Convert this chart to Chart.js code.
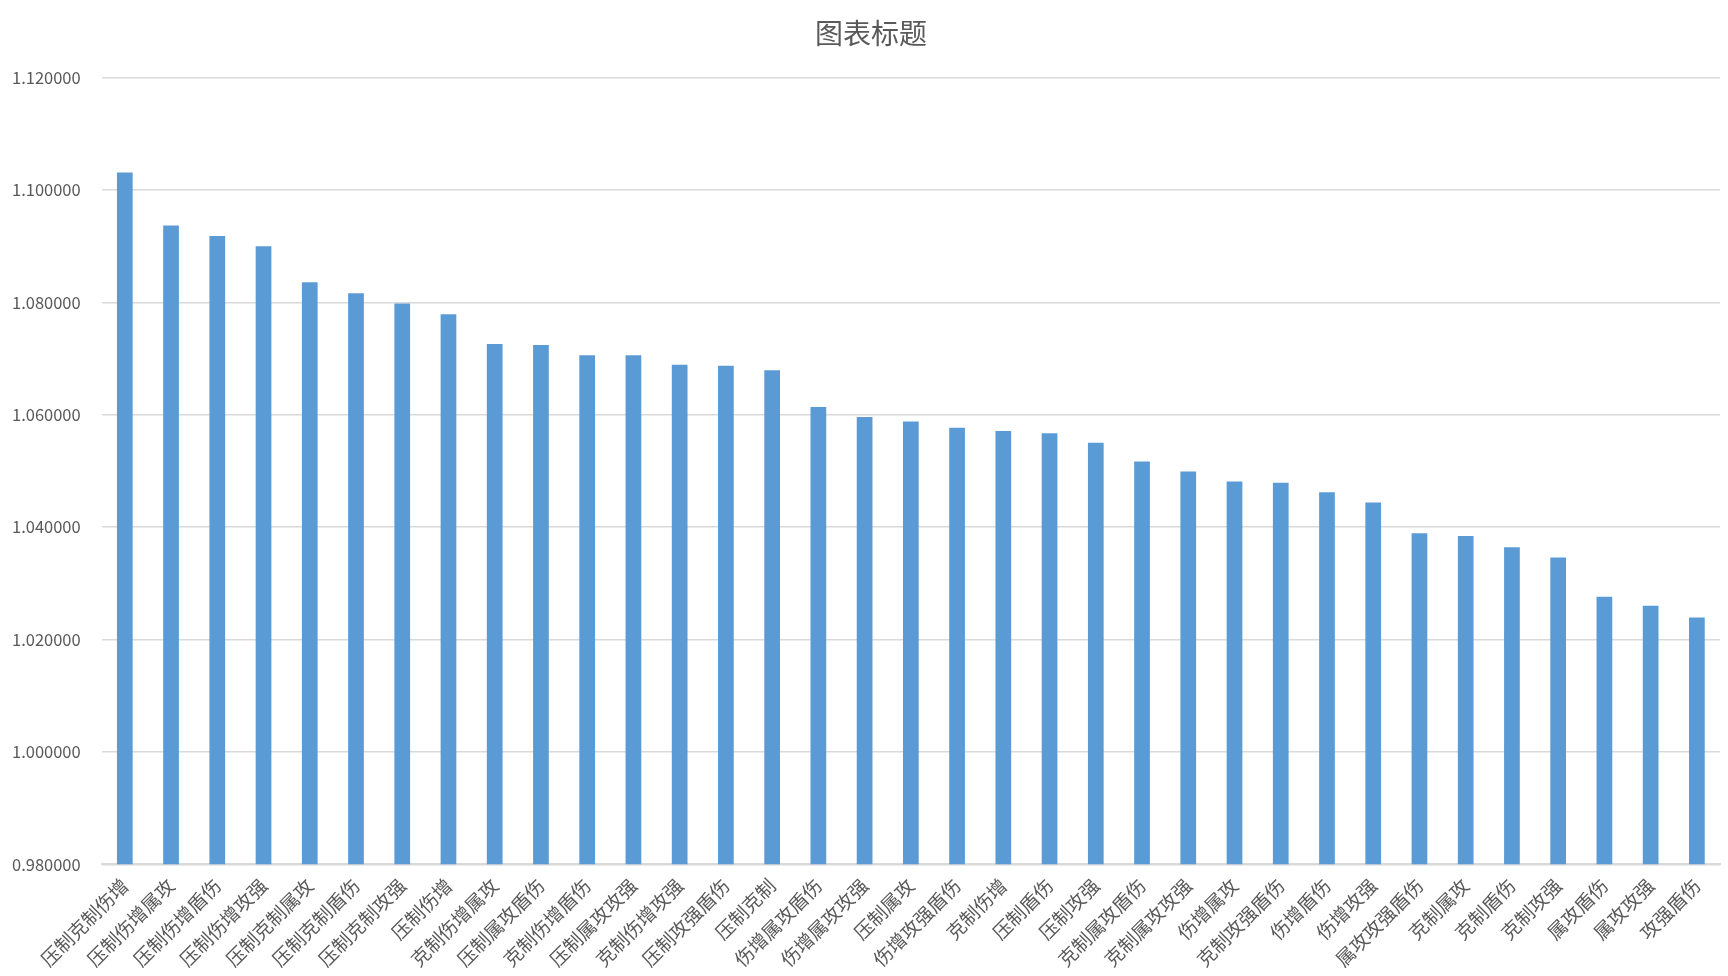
<!DOCTYPE html>
<html>
<head>
<meta charset="utf-8">
<script src="https://cdn.jsdelivr.net/npm/chart.js@4"></script>
<style>
  html, body { margin: 0; padding: 0; background: #fff; }
  #wrap { width: 1728px; height: 976px; }
</style>
</head>
<body>
<div id="wrap"><canvas id="barChart" width="1728" height="976"></canvas></div>
<script>
// categories (combos) and their multipliers
const labels = [
  "压制克制伤增", "压制伤增属攻", "压制伤增盾伤", "压制伤增攻强", "压制克制属攻",
  "压制克制盾伤", "压制克制攻强", "压制伤增", "克制伤增属攻", "压制属攻盾伤",
  "克制伤增盾伤", "压制属攻攻强", "克制伤增攻强", "压制攻强盾伤", "压制克制",
  "伤增属攻盾伤", "伤增属攻攻强", "压制属攻", "伤增攻强盾伤", "克制伤增",
  "压制盾伤", "压制攻强", "克制属攻盾伤", "克制属攻攻强", "伤增属攻",
  "克制攻强盾伤", "伤增盾伤", "伤增攻强", "属攻攻强盾伤", "克制属攻",
  "克制盾伤", "克制攻强", "属攻盾伤", "属攻攻强", "攻强盾伤"
];
const values = [
  1.1031, 1.0937, 1.0918, 1.0900, 1.0836,
  1.0816, 1.0798, 1.0779, 1.0726, 1.0724,
  1.0706, 1.0706, 1.0689, 1.0687, 1.0679,
  1.0614, 1.0596, 1.0588, 1.0577, 1.0571,
  1.0567, 1.0550, 1.0517, 1.0499, 1.0481,
  1.0479, 1.0462, 1.0444, 1.0389, 1.0384,
  1.0364, 1.0346, 1.0276, 1.0260, 1.0239
];
const yMin = 0.98;
const yMax = 1.12;
const yStep = 0.02;

const textColor = "#595959";
const gridColor = "#D9D9D9";
const cjkFont = "'Noto Sans CJK SC', 'Noto Sans', sans-serif";

// nudge the title a bit right, like the spreadsheet's placement
const titleShift = {
  id: "titleShift",
  afterLayout(chart) {
    if (chart.titleBlock) {
      chart.titleBlock.left += 31;
    }
  },
};

const ctx = document.getElementById("barChart").getContext("2d");
new Chart(ctx, {
  type: "bar",
  data: {
    labels: labels,
    datasets: [
      {
        label: "系列1",
        data: values,
        backgroundColor: "#5B9BD5",
        borderWidth: 0,
        categoryPercentage: 1,
        barPercentage: 0.34,
      },
    ],
  },
  plugins: [titleShift],
  options: {
    responsive: false,
    animation: false,
    layout: { padding: { left: -9, right: 8, top: 15, bottom: 3 } },
    plugins: {
      legend: { display: false },
      tooltip: { enabled: false },
      title: {
        display: true,
        text: "图表标题",
        color: textColor,
        font: { family: cjkFont, size: 28, weight: "normal" },
        padding: { top: 2, bottom: 27 },
      },
    },
    scales: {
      x: {
        grid: { display: false },
        border: { display: true, color: gridColor, width: 2 },
        ticks: {
          color: textColor,
          font: { family: cjkFont, size: 19 },
          minRotation: 45,
          maxRotation: 45,
          autoSkip: false,
          padding: 2,
        },
      },
      y: {
        min: yMin,
        max: yMax,
        grid: { color: gridColor, lineWidth: 1.5, drawTicks: false },
        border: { display: false },
        ticks: {
          stepSize: yStep,
          color: textColor,
          font: { family: cjkFont, size: 16.5 },
          padding: 21,
          callback: (v) => Number(v).toFixed(6),
        },
      },
    },
  },
});
</script>
</body>
</html>
